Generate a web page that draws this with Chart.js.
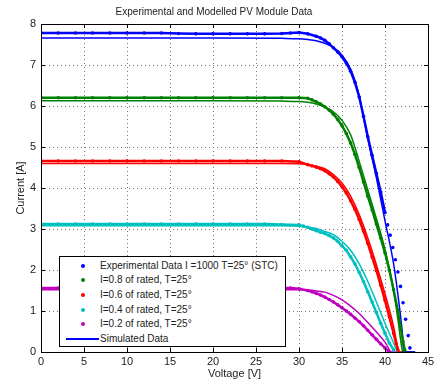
<!DOCTYPE html>
<html>
<head>
<meta charset="utf-8">
<script src="https://cdn.jsdelivr.net/npm/chart.js@4"></script>
<style>
  body { margin: 0; background: #fff; }
  #wrap { position: relative; width: 440px; height: 380px; }
  #legend {
    position: absolute; left: 59px; top: 256px; width: 225px; height: 89px;
    border: 1px solid #000; background: #fff;
    font: 10px "Liberation Sans", Arial, sans-serif; color: #222;
  }
  #legend .row { position: absolute; left: 0; height: 14px; line-height: 14px; white-space: nowrap; }
  #legend .mk { position: absolute; left: 6px; width: 34px; top: 0; height: 14px; }
  #legend .txt { position: absolute; left: 40px; top: 0; }
</style>
</head>
<body>
<div id="wrap">
  <canvas id="pvChart" width="440" height="380"></canvas>
  <div id="legend"></div>
</div>
<script>
/* ================= DATA ================= */

const xTicks = [0, 5, 10, 15, 20, 25, 30, 35, 40, 45];
const yTicks = [0, 1, 2, 3, 4, 5, 6, 7, 8];

const seriesColors = ["#0000ff", "#008000", "#ff0000", "#00bfbf", "#bf00bf"];
const expLabels = [
    "Experimental Data I =1000 T=25° (STC)",
    "I=0.8 of rated, T=25°",
    "I=0.6 of rated, T=25°",
    "I=0.4 of rated, T=25°",
    "I=0.2 of rated, T=25°"
];
const simLabel = "Simulated Data";

// experimental data (voltage / current)
const exp1V = [0,2,4,6,8,10,12,14,16,18,20,22,24,26,28,29,30,31,32,32.5,33,33.5,34,34.5,35,35.5,36,36.5,37,37.5,38,38.5,39,39.5,40,40.3,40.6,40.9,41.2,41.5,41.8,42.1,42.4,42.7,42.9];
const exp1I = [7.78,7.78,7.78,7.78,7.78,7.78,7.78,7.78,7.77,7.76,7.76,7.76,7.76,7.76,7.77,7.78,7.79,7.76,7.7,7.66,7.6,7.52,7.42,7.32,7.2,7.05,6.85,6.58,6.22,5.75,5.25,4.8,4.35,3.9,3.4,3.1,2.85,2.55,2.25,1.95,1.6,1.2,0.8,0.4,0.1];

const exp2V = [0,2,4,6,8,10,12,14,16,18,20,22,24,26,28,30,31,31.5,32,32.5,33,33.5,34,34.5,35,35.5,36,36.5,37,37.5,38,38.5,39,39.5,40,40.5,41,41.5,41.8,42.1,42.3];
const exp2I = [6.2,6.2,6.2,6.2,6.2,6.2,6.2,6.2,6.2,6.2,6.2,6.2,6.2,6.2,6.2,6.2,6.19,6.15,6.1,6.05,5.98,5.9,5.8,5.67,5.52,5.33,5.1,4.82,4.5,4.15,3.8,3.47,3.12,2.78,2.42,2.0,1.52,1.0,0.62,0.25,0.05];

const exp3V = [0,2,4,6,8,10,12,14,16,18,20,22,24,26,28,30,31,31.5,32,32.5,33,33.5,34,34.5,35,35.5,36,36.5,37,37.5,38,38.5,39,39.5,40,40.5,41,41.3,41.5];
const exp3I = [4.66,4.66,4.66,4.66,4.66,4.66,4.66,4.66,4.66,4.66,4.66,4.66,4.66,4.66,4.66,4.64,4.57,4.54,4.51,4.47,4.42,4.35,4.27,4.16,4.03,3.88,3.69,3.48,3.23,2.95,2.65,2.32,1.99,1.63,1.26,0.86,0.45,0.2,0.05];

const exp4V = [0,2,4,6,8,10,12,14,16,18,20,22,24,26,28,30,30.5,31,31.5,32,32.5,33,33.5,34,34.5,35,35.5,36,36.5,37,37.5,38,38.5,39,39.5,40,40.5,41];
const exp4I = [3.12,3.12,3.12,3.12,3.12,3.12,3.12,3.12,3.12,3.12,3.12,3.12,3.12,3.12,3.11,3.1,3.07,3.04,3.0,2.96,2.92,2.89,2.84,2.78,2.7,2.59,2.48,2.32,2.15,1.94,1.72,1.47,1.22,0.96,0.7,0.46,0.22,0.05];

const exp5V = [0,2,4,6,8,10,12,14,16,18,20,22,24,26,28,29,30,31,31.5,32,32.5,33,33.5,34,34.5,35,35.5,36,36.5,37,37.5,38,38.5,39,39.5,40,40.4];
const exp5I = [1.56,1.56,1.56,1.56,1.56,1.56,1.56,1.56,1.56,1.56,1.56,1.56,1.56,1.56,1.56,1.56,1.54,1.5,1.47,1.43,1.39,1.34,1.28,1.22,1.15,1.08,1.0,0.92,0.83,0.74,0.64,0.53,0.42,0.31,0.2,0.1,0.02];

// simulated curves
const sim1V = [0,10,20,28,30,31,32,33,34,35,36,37,38,39,40,41,41.5,42,42.2,43.5];
const sim1I = [7.66,7.66,7.66,7.65,7.64,7.62,7.59,7.53,7.43,7.24,6.9,6.25,5.2,4.25,3.2,2.15,1.4,0.5,0,0];

const sim2V = [0,10,20,28,30,31,32,33,34,35,36,37,38,39,40,41,41.5,42,42.1,43.5];
const sim2I = [6.13,6.13,6.13,6.12,6.11,6.09,6.05,5.98,5.86,5.65,5.3,4.65,3.95,3.25,2.5,1.5,0.8,0.05,0,0];

const sim3V = [0,10,20,28,30,31,32,33,34,35,36,37,38,39,40,41,41.4,41.7,43.5];
const sim3I = [4.6,4.6,4.6,4.6,4.59,4.57,4.53,4.47,4.33,4.12,3.8,3.35,2.78,2.13,1.42,0.62,0.2,0,0];

const sim4V = [0,10,20,28,30,31,32,33,34,35,36,37,38,39,40,41,41.5,43.5];
const sim4I = [3.08,3.08,3.08,3.08,3.07,3.05,3.01,2.94,2.86,2.7,2.48,2.15,1.72,1.22,0.7,0.22,0,0];

const sim5V = [0,10,20,28,30,31,32,33,34,35,36,37,38,39,40,40.8,43.5];
const sim5I = [1.52,1.52,1.52,1.52,1.52,1.51,1.49,1.46,1.38,1.27,1.12,0.94,0.72,0.49,0.24,0,0];

const expV = [exp1V, exp2V, exp3V, exp4V, exp5V];
const expI = [exp1I, exp2I, exp3I, exp4I, exp5I];
const simV = [sim1V, sim2V, sim3V, sim4V, sim5V];
const simI = [sim1I, sim2I, sim3I, sim4I, sim5I];

// beyond this voltage the measured points are sparse and show as single dots
const denseEnd = [40, 43, 43, 43, 43];

/* ================= CHART ================= */

const FONT = "'Liberation Sans', Arial, sans-serif";

function pts(vs, is) {
    return vs.map((v, k) => ({ x: v, y: is[k] }));
}

const datasets = [];

expV.forEach((vs, i) => {
    datasets.push({
        label: expLabels[i],
        data: pts(vs, expI[i]),
        showLine: true,
        borderWidth: 2.5,
        borderColor: seriesColors[i],
        backgroundColor: seriesColors[i],
        pointRadius: 1.8,
        pointBorderWidth: 0,
        segment: {
            borderColor: ctx => (ctx.p1.parsed.x <= denseEnd[i]) ? seriesColors[i] : "transparent"
        }
    });
});

simV.forEach((vs, i) => {
    datasets.push({
        label: simLabel,
        data: pts(vs, simI[i]),
        showLine: true,
        borderWidth: 1.5,
        borderColor: seriesColors[i],
        pointRadius: 0,
        cubicInterpolationMode: "monotone"
    });
});

// dotted grid, box round the plot area and inward ticks
const boxPlugin = {
    id: "box",
    beforeDatasetsDraw(chart) {
        const { ctx, chartArea: a, scales } = chart;
        ctx.save();
        ctx.strokeStyle = "#777";
        ctx.lineWidth = 1;
        ctx.setLineDash([1, 3]);
        ctx.beginPath();
        xTicks.forEach(t => {
            const px = Math.round(scales.x.getPixelForValue(t)) + 0.5;
            ctx.moveTo(px, a.bottom); ctx.lineTo(px, a.top);
        });
        yTicks.forEach(t => {
            const py = Math.round(scales.y.getPixelForValue(t)) + 0.5;
            ctx.moveTo(a.left, py); ctx.lineTo(a.right, py);
        });
        ctx.stroke();
        ctx.restore();
    },
    afterDatasetsDraw(chart) {
        const { ctx, chartArea: a, scales } = chart;
        ctx.save();
        ctx.strokeStyle = "#000";
        ctx.lineWidth = 1;
        ctx.beginPath();
        xTicks.forEach(t => {
            const px = Math.round(scales.x.getPixelForValue(t)) + 0.5;
            ctx.moveTo(px, a.bottom); ctx.lineTo(px, a.bottom - 4);
            ctx.moveTo(px, a.top); ctx.lineTo(px, a.top + 4);
        });
        yTicks.forEach(t => {
            const py = Math.round(scales.y.getPixelForValue(t)) + 0.5;
            ctx.moveTo(a.left, py); ctx.lineTo(a.left + 4, py);
            ctx.moveTo(a.right, py); ctx.lineTo(a.right - 4, py);
        });
        ctx.stroke();
        ctx.strokeRect(Math.round(a.left) + 0.5, Math.round(a.top) + 0.5,
            Math.round(a.right - a.left), Math.round(a.bottom - a.top));
        ctx.restore();
    }
};

const ctx = document.getElementById("pvChart").getContext("2d");

new Chart(ctx, {
    type: "scatter",
    data: { datasets: datasets },
    options: {
        responsive: false,
        animation: false,
        layout: { padding: { left: 0, right: 12, top: 0, bottom: 0 } },
        plugins: {
            legend: { display: false },
            tooltip: { enabled: false },
            title: {
                display: true,
                text: "Experimental and Modelled PV Module Data",
                color: "#222",
                font: { family: FONT, size: 10, weight: "normal" },
                padding: { top: 6, bottom: 6 }
            }
        },
        scales: {
            x: {
                type: "linear",
                min: 0, max: 45,
                afterBuildTicks: s => { s.ticks = xTicks.map(v => ({ value: v })); },
                afterFit: s => { s.height = 28; },
                grid: { display: false, drawTicks: false },
                border: { display: false },
                ticks: { color: "#222", padding: 3, font: { family: FONT, size: 11 } },
                title: {
                    display: true, text: "Voltage [V]", color: "#222",
                    font: { family: FONT, size: 11 }, padding: { top: 0, bottom: -1 }
                }
            },
            y: {
                type: "linear",
                min: 0, max: 8,
                afterBuildTicks: s => { s.ticks = yTicks.map(v => ({ value: v })); },
                afterFit: s => { s.width = 41; },
                grid: { display: false, drawTicks: false },
                border: { display: false },
                ticks: { color: "#222", padding: 5, font: { family: FONT, size: 11 } },
                title: {
                    display: true, text: "Current [A]", color: "#222",
                    font: { family: FONT, size: 11 }, padding: { top: 14, bottom: 0 }
                }
            }
        }
    },
    plugins: [boxPlugin]
});

/* ================= LEGEND ================= */

const legendEl = document.getElementById("legend");
const rowTops = [2, 16, 31, 46, 60, 75];

expLabels.concat([simLabel]).forEach((label, i) => {
    const row = document.createElement("div");
    row.className = "row";
    row.style.top = rowTops[i] + "px";
    row.style.width = "100%";
    const mk = document.createElement("div");
    mk.className = "mk";
    if (i < expLabels.length) {
        mk.innerHTML = '<span style="position:absolute;left:15px;top:5px;width:4px;height:4px;border-radius:2px;background:' + seriesColors[i] + '"></span>';
    } else {
        mk.innerHTML = '<span style="position:absolute;left:0;top:6px;width:33px;height:2px;background:' + seriesColors[0] + '"></span>';
    }
    const txt = document.createElement("div");
    txt.className = "txt";
    txt.textContent = label;
    row.appendChild(mk);
    row.appendChild(txt);
    legendEl.appendChild(row);
});
</script>
</body>
</html>
